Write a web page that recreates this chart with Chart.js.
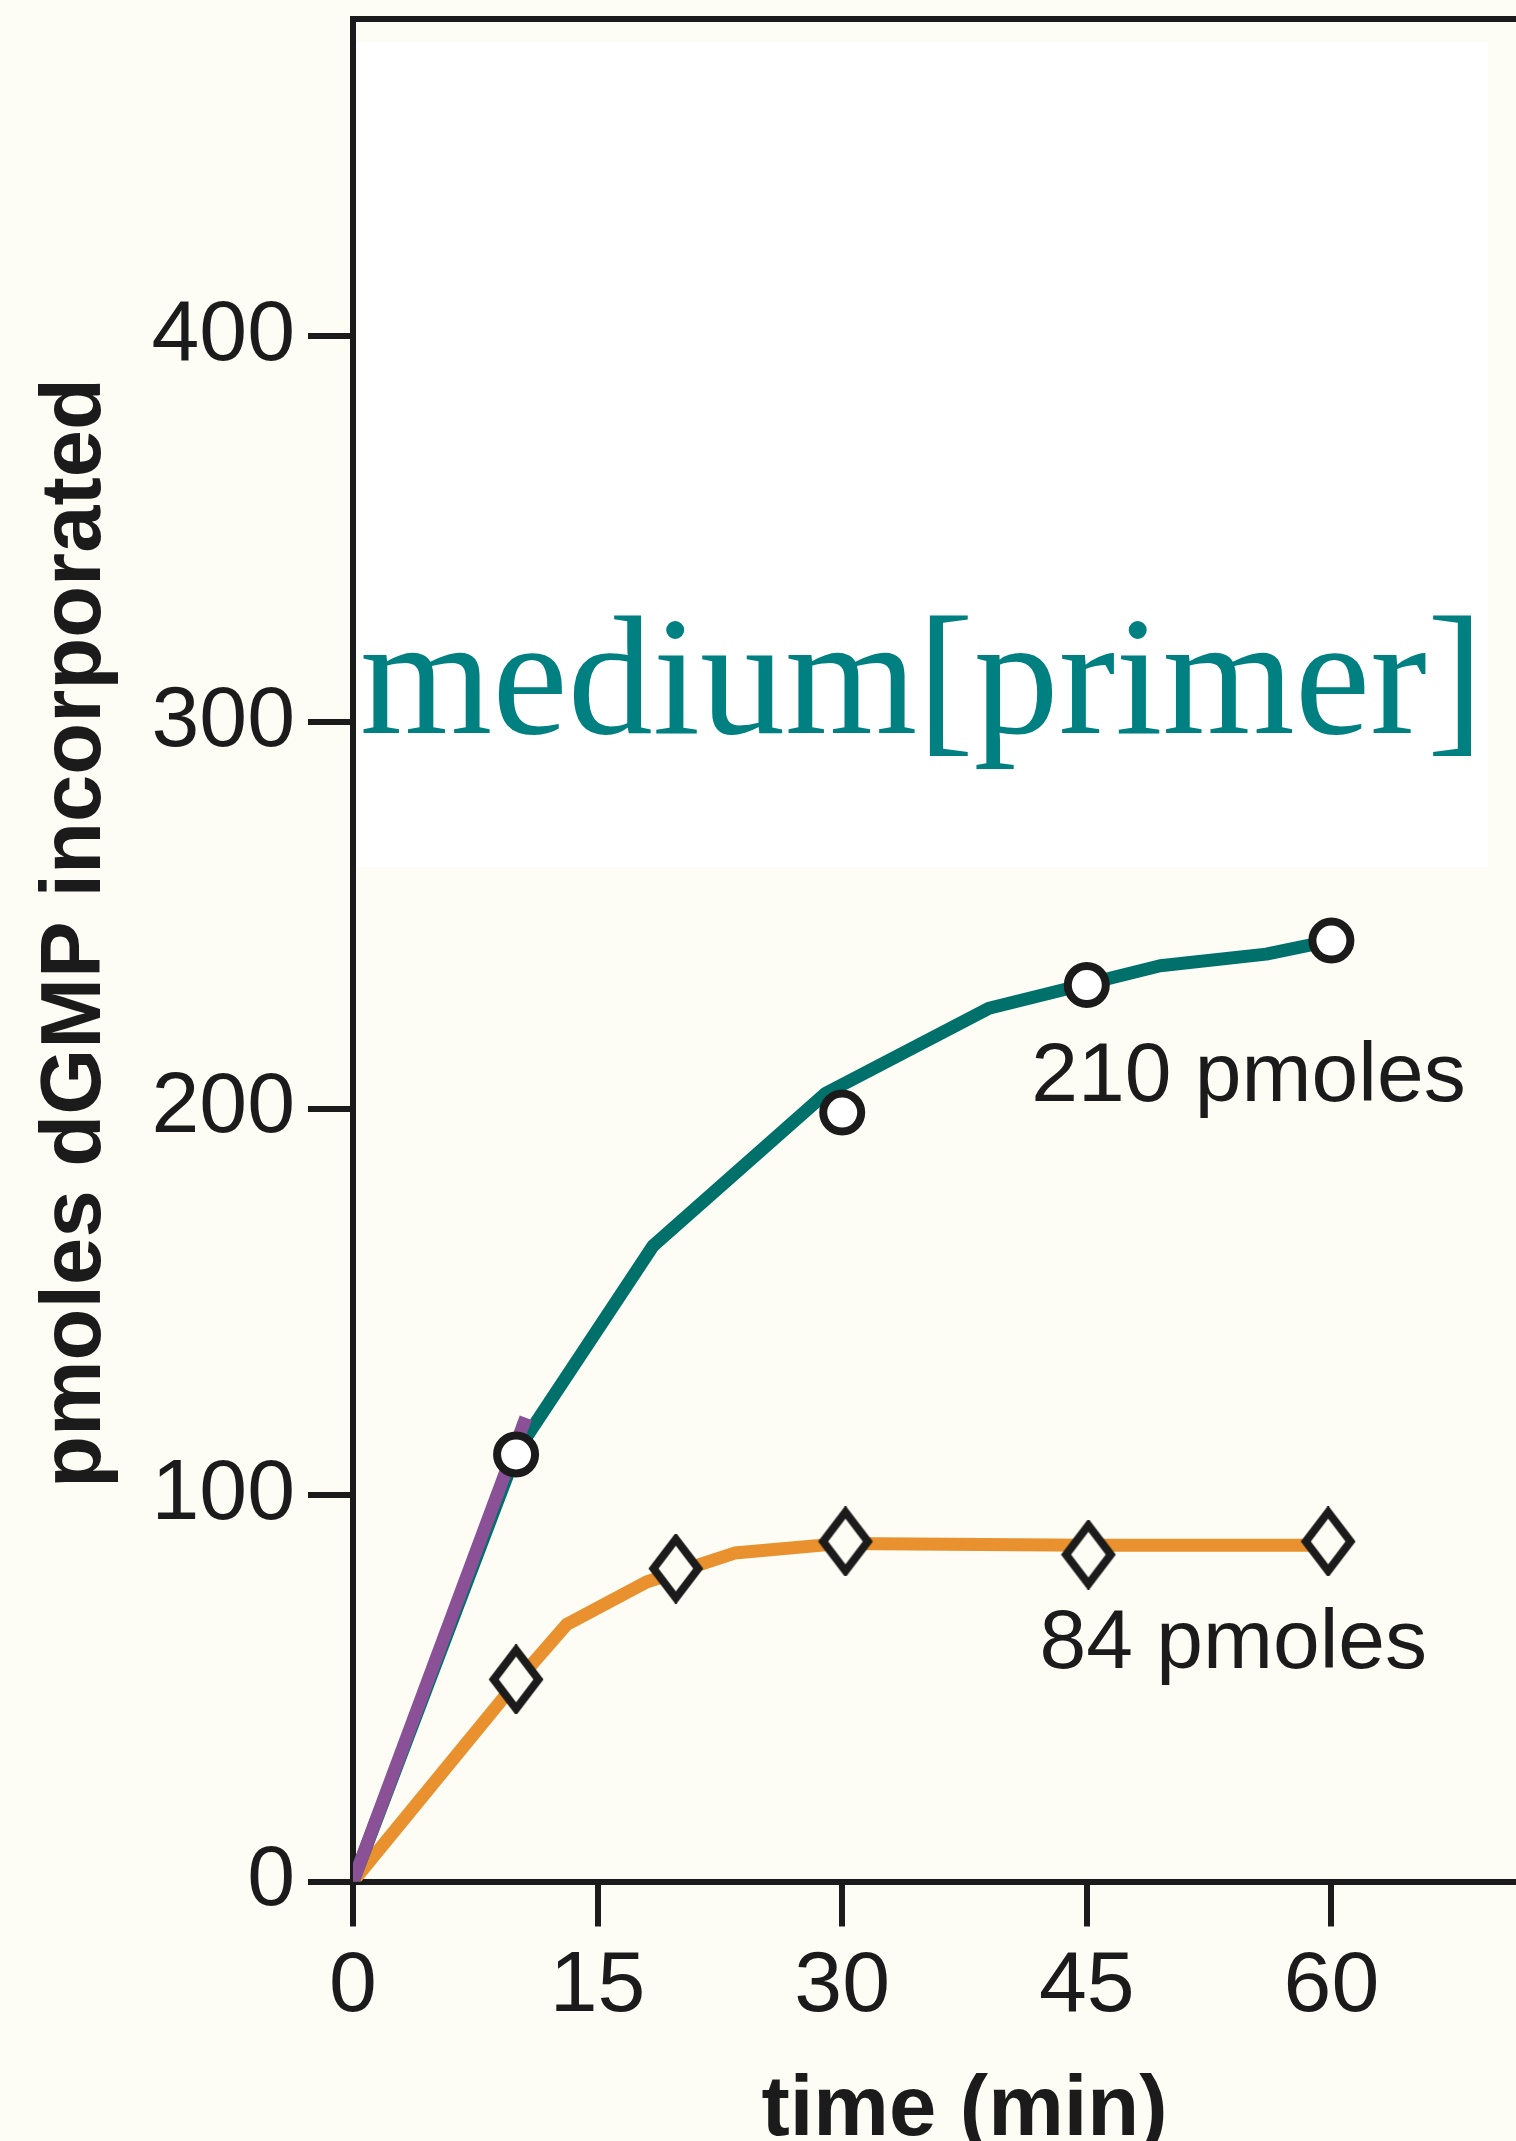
<!DOCTYPE html>
<html>
<head>
<meta charset="utf-8">
<title>dGMP incorporation</title>
<script src="https://cdn.jsdelivr.net/npm/chart.js@4.4.1/dist/chart.umd.min.js"></script>
<style>
  html, body { margin: 0; padding: 0; overflow: hidden; background: #fdfdf6; }
  canvas { display: block; }
</style>
</head>
<body>
<canvas id="chart" width="1576" height="2141"></canvas>
<script>
const TIME_TICKS = [0, 15, 30, 45, 60];
const PMOL_TICKS = [0, 100, 200, 300, 400];

// medium [primer]: measured points (circles) and the hand-drawn curve
const MED_TIME = [10, 30, 45, 60];
const MED_PMOL = [110.5, 199, 232, 243.5];
const MED_CURVE_TIME = [0, 10, 18.4, 29, 39, 49.5, 56, 60];
const MED_CURVE_PMOL = [0, 111, 164.5, 204, 226, 237, 240, 243.5];

// initial-rate line
const RATE_TIME = [0, 10.6];
const RATE_PMOL = [0, 120];

// low [primer]: diamonds and curve
const LOW_TIME = [10, 19.8, 30.2, 45.1, 59.8];
const LOW_PMOL = [52.3, 81, 88, 84.6, 88];
const LOW_CURVE_TIME = [0, 10, 13.1, 18, 23.4, 30, 45, 60];
const LOW_CURVE_PMOL = [0, 51.5, 66.5, 77.5, 85, 87.5, 87, 87];

// plateau notes
const NOTES = ["210 pmoles", "84 pmoles"];
const NOTE_TIME = [41.6, 42.1];
const NOTE_PMOL = [202, 55.3];

const Y_TITLE = "pmoles dGMP incorporated";
const X_TITLE = "time (min)";

const BG = "#fdfdf6";
const INK = "#1b1b1b";
const TEAL = "#00706a";
const ORANGE = "#e8912e";
const PURPLE = "#8a5196";
const LABEL_TEAL = "#008080";
const SANS = '"Liberation Sans", Arial, Helvetica, sans-serif';
const SERIF = '"Liberation Serif", "Times New Roman", serif';

const zip = (xs, ys) => xs.map((x, i) => ({ x, y: ys[i] }));

function diamondStyle(w, h, lw) {
    const c = document.createElement("canvas");
    c.width = w;
    c.height = h;
    const g = c.getContext("2d");
    const k = lw * 0.7;
    g.beginPath();
    g.moveTo(w / 2, k);
    g.lineTo(w - k, h / 2);
    g.lineTo(w / 2, h - k);
    g.lineTo(k, h / 2);
    g.closePath();
    g.fillStyle = BG;
    g.fill();
    g.lineWidth = lw;
    g.strokeStyle = INK;
    g.stroke();
    return c;
}

// background, white box behind the overlay label, y title and text notes
const paper = {
    id: "paper",
    beforeDraw(chart) {
        const { ctx, chartArea: a } = chart;
        ctx.save();
        ctx.fillStyle = BG;
        ctx.fillRect(0, 0, chart.width, chart.height);
        ctx.fillStyle = "#ffffff";
        ctx.fillRect(a.left + 4, 42, 1488 - a.left - 4, 825);
        ctx.restore();
    },
    afterDraw(chart) {
        const { ctx, chartArea: a, scales } = chart;
        ctx.save();
        ctx.textBaseline = "alphabetic";
        ctx.fillStyle = INK;

        // rotated y title, sits a little above the plot's middle
        ctx.save();
        ctx.translate(100, 933);
        ctx.rotate(-Math.PI / 2);
        ctx.textAlign = "center";
        ctx.font = `bold 85px ${SANS}`;
        ctx.fillText(Y_TITLE, 0, 0);
        ctx.restore();

        ctx.textAlign = "left";
        ctx.font = `84px ${SANS}`;
        NOTES.forEach((t, i) => {
            ctx.fillText(t, scales.x.getPixelForValue(NOTE_TIME[i]),
                scales.y.getPixelForValue(NOTE_PMOL[i]));
        });
        ctx.fillStyle = LABEL_TEAL;
        ctx.font = `170px ${SERIF}`;
        ctx.fillText("medium[primer]", a.left + 7, 733);
        ctx.restore();
    },
};

const tickGrid = {
    drawOnChartArea: false,
    drawTicks: true,
    tickLength: 45,
    tickWidth: 6,
    tickColor: INK,
    color: INK,
    lineWidth: 6,
};

// keep label overhang from pushing the plot area around
const noPad = (s) => {
    s.paddingTop = 0;
    s.paddingBottom = 0;
    s.paddingLeft = 0;
    s.paddingRight = 0;
};

new Chart(document.getElementById("chart"), {
    type: "scatter",
    data: {
        datasets: [
            {
                data: zip(MED_TIME, MED_PMOL),
                showLine: false,
                pointStyle: "circle",
                pointRadius: 19,
                pointBorderWidth: 8,
                pointBorderColor: INK,
                pointBackgroundColor: "#ffffff",
                order: 0,
            },
            {
                data: zip(LOW_TIME, LOW_PMOL),
                showLine: false,
                pointStyle: diamondStyle(56, 70, 8),
                order: 0,
            },
            {
                data: zip(RATE_TIME, RATE_PMOL),
                showLine: true,
                borderColor: PURPLE,
                borderWidth: 13,
                pointRadius: 0,
                order: 1,
            },
            {
                data: zip(MED_CURVE_TIME, MED_CURVE_PMOL),
                showLine: true,
                borderColor: TEAL,
                borderWidth: 13,
                borderJoinStyle: "round",
                pointRadius: 0,
                order: 2,
            },
            {
                data: zip(LOW_CURVE_TIME, LOW_CURVE_PMOL),
                showLine: true,
                borderColor: ORANGE,
                borderWidth: 13,
                borderJoinStyle: "round",
                pointRadius: 0,
                order: 2,
            },
        ],
    },
    options: {
        responsive: false,
        animation: false,
        devicePixelRatio: 1,
        layout: { autoPadding: false, padding: { top: 19, left: 0, right: 0, bottom: 0 } },
        plugins: { legend: { display: false }, tooltip: { enabled: false } },
        scales: {
            x: {
                type: "linear",
                position: "bottom",
                min: 0,
                max: 75,
                afterBuildTicks: (s) => { s.ticks = TIME_TICKS.map((v) => ({ value: v })); },
                afterFit: (s) => { s.height = 259.5; noPad(s); },
                grid: tickGrid,
                border: { display: true, color: INK, width: 6 },
                ticks: {
                    autoSkip: false,
                    maxRotation: 0,
                    padding: 9,
                    color: INK,
                    font: { family: SANS, size: 86 },
                },
                title: {
                    display: true,
                    text: X_TITLE,
                    color: INK,
                    font: { family: SANS, size: 85, weight: "bold", lineHeight: 0.7 },
                    padding: { top: 0, bottom: 0 },
                },
            },
            xTop: {
                type: "linear",
                position: "top",
                min: 0,
                max: 75,
                afterFit: (s) => { s.height = 0; noPad(s); },
                grid: { display: false, drawTicks: false },
                border: { display: true, color: INK, width: 6 },
                ticks: { display: false },
            },
            y: {
                type: "linear",
                min: 0,
                max: 482,
                afterBuildTicks: (s) => { s.ticks = PMOL_TICKS.map((v) => ({ value: v })); },
                afterFit: (s) => { s.width = 353; noPad(s); },
                grid: tickGrid,
                border: { display: true, color: INK, width: 6 },
                ticks: {
                    autoSkip: false,
                    padding: 13,
                    color: INK,
                    font: { family: SANS, size: 86 },
                },
            },
        },
    },
    plugins: [paper],
});
</script>
</body>
</html>
